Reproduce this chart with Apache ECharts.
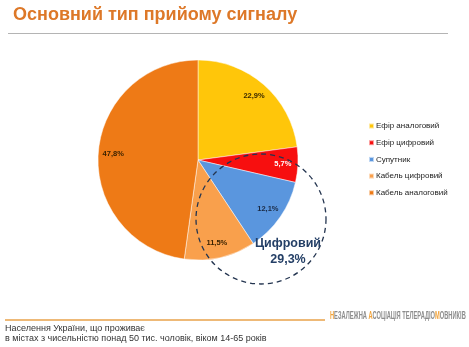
<!DOCTYPE html>
<html>
<head>
<meta charset="utf-8">
<script src="https://cdn.jsdelivr.net/npm/echarts@6/dist/echarts.min.js"></script>
<style>
html,body{margin:0;padding:0;background:#fff;}
#chart{width:469px;height:347px;}
</style>
</head>
<body>
<div id="chart"></div>
<script>
const titleText = 'Основний тип прийому сигналу';
const categories = ['Ефір аналоговий', 'Ефір цифровий', 'Супутник', 'Кабель цифровий', 'Кабель аналоговий'];
const values = [22.9, 5.7, 12.1, 11.5, 47.8];
const colors = ['#FFC60A', '#F70F0F', '#5A96DE', '#F9A04C', '#EE7A16'];
const labelColors = ['#3a2a00', '#ffffff', '#1a2a44', '#3a2200', '#3a2200'];
const digitalLabel = 'Цифровий';
const digitalValue = '29,3%';
const footnote = ['Населення України, що проживає', 'в містах з чисельністю понад 50 тис. чоловік, віком 14-65 років'];

const fmt = v => v.toFixed(1).replace('.', ',') + '%';

const chart = echarts.init(document.getElementById('chart'), null, {renderer: 'canvas'});
const mainData = categories.map((c, i) => ({
  name: c, value: values[i],
  itemStyle: {color: colors[i]}
}));
const labelData = categories.map((c, i) => ({
  name: c, value: values[i],
  label: {color: labelColors[i]}
}));

chart.setOption({
  backgroundColor: '#ffffff',
  animation: false,
  legend: {
    orient: 'vertical',
    left: 363, top: 116,
    itemWidth: 5, itemHeight: 5,
    itemGap: 6.7,
    icon: 'rect',
    data: categories,
    textStyle: {fontSize: 8, lineHeight: 10, color: '#222', fontFamily: 'Liberation Sans, Arial', padding: [0, 0, 0, -3]}
  },
  graphic: [
    {type: 'text', left: 13, top: 6, style: {text: titleText, font: 'bold 18px "Liberation Sans", Arial', fill: '#DD7828'}},
    {type: 'line', shape: {x1: 8, y1: 33.5, x2: 448, y2: 33.5}, style: {stroke: '#B4B4B4', lineWidth: 1}},
    {type: 'circle', shape: {cx: 261, cy: 219, r: 65}, z: 10, style: {fill: 'none', stroke: '#243550', lineWidth: 1.3, lineDash: [5, 4]}},
    {type: 'text', x: 288, y: 236, z: 11, style: {text: digitalLabel + '\n' + digitalValue, align: 'center', font: 'bold 12.5px "Liberation Sans", Arial', lineHeight: 16, fill: '#243F66'}},
    {type: 'line', shape: {x1: 5, y1: 320, x2: 325, y2: 320}, style: {stroke: '#E8A24A', lineWidth: 1.5}},
    {type: 'text', x: 330, y: 311, scaleX: 0.57, style: {
      text: '{o|Н}{g|ЕЗАЛЕЖНА }{o|А}{g|СОЦІАЦІЯ ТЕЛЕРАДІО}{o|М}{g|ОВНИКІВ}',
      rich: {
        o: {fill: '#F2A33A', font: 'bold 10px "Liberation Sans", Arial'},
        g: {fill: '#8C8C8C', font: 'bold 10px "Liberation Sans", Arial'}
      }
    }},
    {type: 'text', x: 5, y: 323, style: {text: footnote.join('\n'), font: '9px "Liberation Sans", Arial', lineHeight: 10.5, fill: '#333'}}
  ],
  series: [
    {
      type: 'pie',
      center: [198, 160],
      radius: [0, 100],
      startAngle: 90,
      clockwise: true,
      data: mainData,
      label: {show: false},
      labelLine: {show: false},
      itemStyle: {borderColor: 'rgba(255,255,255,0.6)', borderWidth: 0.8},
      silent: true
    },
    {
      type: 'pie',
      center: [198, 160],
      radius: [0, 164],
      startAngle: 90,
      clockwise: true,
      silent: true,
      data: labelData,
      itemStyle: {color: 'rgba(0,0,0,0)', borderWidth: 0},
      label: {show: true, position: 'inside', formatter: p => fmt(p.value), fontSize: 7.5, fontWeight: 'bold', fontFamily: 'Liberation Sans, Arial'},
      labelLine: {show: false},
      z: 5
    }
  ]
});
</script>
</body>
</html>
